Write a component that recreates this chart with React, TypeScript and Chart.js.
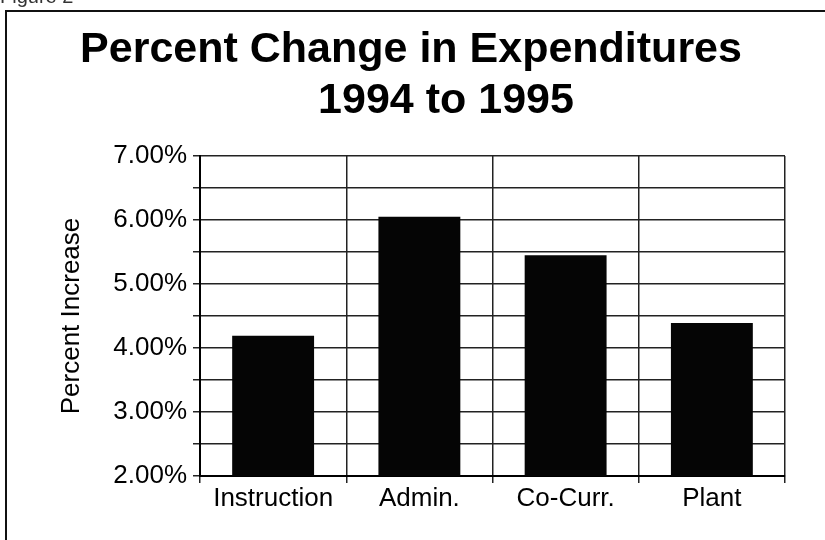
import React, { useEffect, useRef } from "react";
import { Chart, registerables } from "chart.js";

Chart.register(...registerables);

const FIGURE_LABEL = "Figure 2";
const TITLE_LINES = ["Percent Change in Expenditures", "1994 to 1995"];
const CATEGORIES = ["Instruction", "Admin.", "Co-Curr.", "Plant"];
const PERCENT_INCREASE = [4.19, 6.05, 5.45, 4.39];
const Y_MIN = 2;
const Y_MAX = 7;
const Y_STEP = 0.5;
const Y_TITLE = "Percent Increase";

const FONT = '"Liberation Sans", Arial, Helvetica, sans-serif';

const decorPlugin = {
  id: "decor",
  beforeDraw(chart: any) {
    const ctx = chart.ctx;
    ctx.save();
    ctx.fillStyle = "#ffffff";
    ctx.fillRect(0, 0, chart.width, chart.height);
    ctx.restore();
  },
  afterDraw(chart: any) {
    const ctx = chart.ctx;
    ctx.save();
    ctx.strokeStyle = "#111";
    ctx.lineWidth = 2;
    ctx.beginPath();
    ctx.moveTo(6, chart.height + 10);
    ctx.lineTo(6, 11);
    ctx.lineTo(chart.width + 10, 11);
    ctx.stroke();

    ctx.fillStyle = "#000";
    ctx.textBaseline = "alphabetic";
    ctx.textAlign = "center";
    ctx.font = `bold 43px ${FONT}`;
    ctx.fillText(TITLE_LINES[0], 411, 62);
    ctx.fillText(TITLE_LINES[1], 446, 113);

    ctx.textAlign = "left";
    ctx.font = `20px ${FONT}`;
    ctx.fillStyle = "#333";
    ctx.fillText(FIGURE_LABEL, 0, 3);
    ctx.restore();
  },
};

export default function App() {
  const canvasRef = useRef<HTMLCanvasElement | null>(null);

  useEffect(() => {
    if (!canvasRef.current) return;
    const chart = new Chart(canvasRef.current, {
      type: "bar",
      data: {
        labels: CATEGORIES,
        datasets: [
          {
            label: Y_TITLE,
            data: PERCENT_INCREASE,
            backgroundColor: "#050505",
            borderColor: "#000",
            borderWidth: 0,
            barPercentage: 0.56,
            categoryPercentage: 1,
          },
        ],
      },
      options: {
        animation: false,
        responsive: true,
        maintainAspectRatio: false,
        layout: { padding: { left: 0, right: 40, top: 156, bottom: 0 } },
        plugins: {
          legend: { display: false },
          title: { display: false },
          tooltip: { enabled: false },
        },
        scales: {
          x: {
            offset: true,
            grid: {
              offset: true,
              color: "#222",
              lineWidth: 1.5,
              tickLength: 7,
              drawOnChartArea: true,
            },
            border: { color: "#000", width: 2 },
            ticks: {
              color: "#000",
              padding: 0,
              font: { family: FONT, size: 26 },
              maxRotation: 0,
            },
            afterFit(scale: any) {
              scale.height = 64;
            },
          },
          y: {
            min: Y_MIN,
            max: Y_MAX,
            grid: {
              color: "#222",
              lineWidth: 1.5,
              tickLength: 7,
            },
            border: { color: "#000", width: 2 },
            ticks: {
              stepSize: Y_STEP,
              autoSkip: false,
              color: "#000",
              padding: 6,
              font: { family: FONT, size: 26 },
              callback: (v: any) =>
                Math.abs(Number(v) - Math.round(Number(v))) < 1e-9
                  ? Number(v).toFixed(2) + "%"
                  : "",
            },
            title: {
              display: true,
              text: Y_TITLE,
              color: "#000",
              font: { family: FONT, size: 26 },
              padding: { top: 56, bottom: 0 },
            },
            afterFit(scale: any) {
              scale.width = 200;
            },
          },
        },
      },
      plugins: [decorPlugin],
    });
    return () => chart.destroy();
  }, []);

  return (
    <div
      style={{
        position: "absolute",
        left: 0,
        top: 0,
        width: 825,
        height: 540,
        background: "#fff",
      }}
    >
      <canvas ref={canvasRef} />
    </div>
  );
}
